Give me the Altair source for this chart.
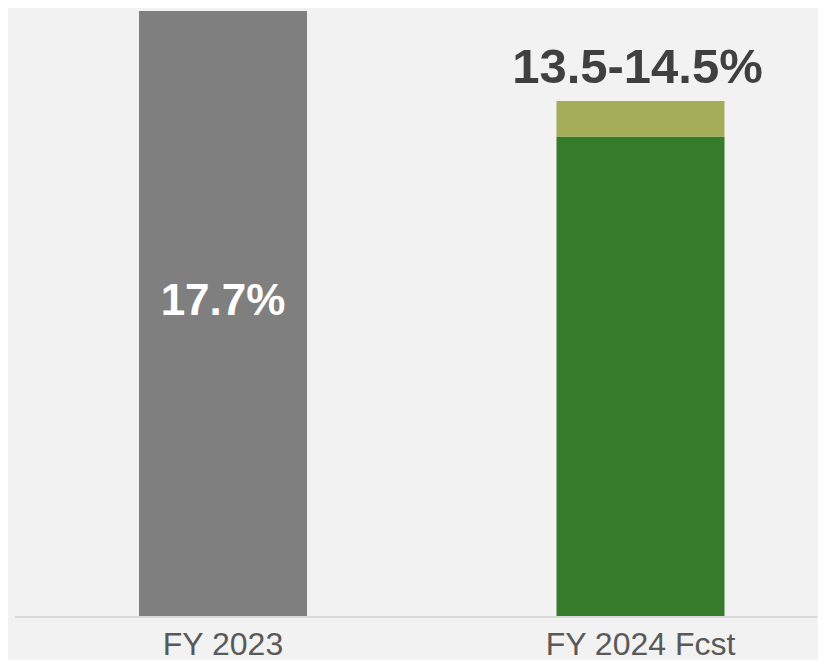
import altair as alt
import pandas as pd

# ---- data ----
categories = ["FY 2023", "FY 2024 Fcst", "FY 2024 Fcst"]
segments = ["Actual", "Low", "Range"]
seg_start = [0.0, 0.0, 13.5]
seg_end = [17.7, 13.5, 14.5]
seg_colors = ["#7f7f7f", "#377c2b", "#a5ad59"]

label_cats = ["FY 2023", "FY 2024 Fcst"]
label_texts = ["17.7%", "13.5-14.5%"]

bars = pd.DataFrame({
    "cat": categories, "seg": segments, "start": seg_start, "end": seg_end,
})
inside = pd.DataFrame({"cat": [label_cats[0]], "txt": [label_texts[0]],
                       "y": [seg_end[0] / 2]})
above = pd.DataFrame({"cat": [label_cats[1]], "txt": [label_texts[1]],
                      "y": [seg_end[2]]})

W, H = 771.5, 606
x_enc = alt.X("cat:N", sort=label_cats,
              scale=alt.Scale(paddingInner=0.5976, paddingOuter=0.2228),
              axis=alt.Axis(title=None, labelAngle=0, ticks=False, tickSize=0,
                            domain=False, labelFontSize=32, labelLimit=0,
                            labelFont="Liberation Sans", labelColor="#595959",
                            labelBaseline="alphabetic", labelPadding=37))
y_scale = alt.Scale(domain=[0, 17.03], clamp=True, nice=False, zero=True)

bar_layer = alt.Chart(bars).mark_bar().encode(
    x=x_enc,
    y=alt.Y("start:Q", scale=y_scale, axis=None),
    y2="end:Q",
    color=alt.Color("seg:N", scale=alt.Scale(domain=segments, range=seg_colors),
                    legend=None),
)

axis_line = alt.Chart(pd.DataFrame({"a": [0]})).mark_rule(
    color="#d9d9d9", strokeWidth=2
).encode(x=alt.value(-31), x2=alt.value(W), y=alt.value(H))

inside_text = alt.Chart(inside).mark_text(
    font="Liberation Sans", fontWeight="bold", fontSize=44, color="#ffffff",
    baseline="middle", align="center"
).encode(x=alt.X("cat:N", sort=label_cats), y=alt.Y("y:Q", scale=y_scale), text="txt:N")

above_text = alt.Chart(above).mark_text(
    font="Liberation Sans", fontWeight="bold", fontSize=49, color="#404040",
    baseline="alphabetic", align="center", dy=-18, dx=-3
).encode(x=alt.X("cat:N", sort=label_cats), y=alt.Y("y:Q", scale=y_scale), text="txt:N")

chart = alt.layer(bar_layer, axis_line, inside_text, above_text).properties(
    width=W, height=H,
    autosize=alt.AutoSizeParams(type="none"),
    padding={"left": 38, "top": 3, "right": 0, "bottom": 43},
    background="#f2f2f2",
).configure_view(stroke=None)

chart.save("out.html", embed_options={"renderer": "svg", "actions": False})
